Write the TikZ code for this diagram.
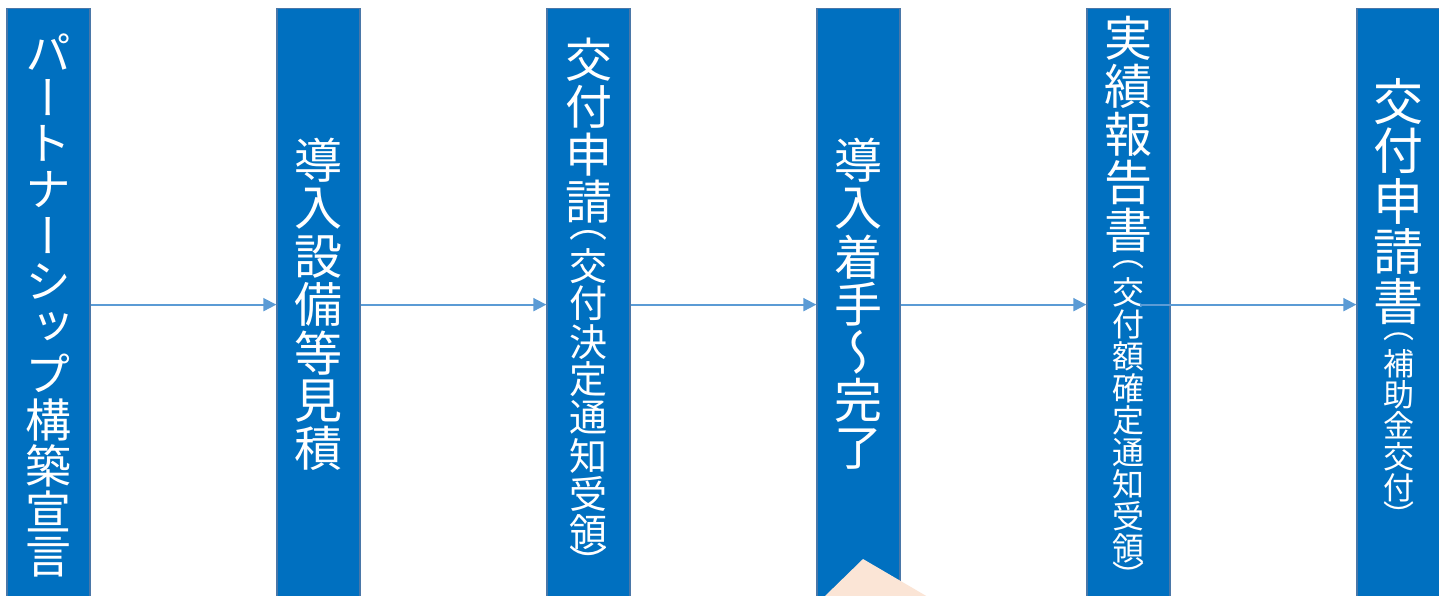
\documentclass[tikz,border=0pt]{standalone}
\usepackage{fontspec}
\newfontfamily\jp[RawFeature=+vert]{Noto Sans CJK JP}
\usetikzlibrary{arrows.meta}
\definecolor{barfill}{HTML}{0070C0}
\definecolor{barline}{HTML}{4A77A8}
\definecolor{arrowcol}{HTML}{5B9BD5}
\definecolor{peach}{HTML}{FBE5D6}
\makeatletter
% one character in a cell: font size, cell height, character
\newcommand\jc[3]{\vbox to #2pt{\vss\hbox to 80pt{\hss\fontsize{#1pt}{#1pt}\selectfont\jp #3\hss}\vss}}
% a run of characters, each in a cell as tall as the font size
\newcommand\vrun[2]{\def\vr@size{#1}\@tfor\vr@c:=#2\do{\jc{\vr@size}{\vr@size}{\vr@c}}}
\makeatother
\newcommand\vcol[1]{\vbox{\offinterlineskip #1}}
\begin{document}
\begin{tikzpicture}[x=1pt,y=1pt,
  bar/.style={draw=barline,line width=1.3pt,fill=barfill,text=white,
    minimum width=83pt,minimum height=592pt,inner sep=0pt,anchor=north},
  arr/.style={draw=arrowcol,line width=1.8pt,
    -{Triangle[length=13pt,width=13pt]}}]
\useasboundingbox (0,0) rectangle (1439,595);
\fill[white] (0,0) rectangle (1439,595);
\node[bar] (b1) at (48.5,587) {\vcol{\vrun{46}{パートナーシップ構築宣言}}};
\node[bar] (b2) at (318.5,587) {\vcol{\vrun{48}{導入設備等見積}}};
\node[bar] (b3) at (588.5,587) {\vcol{\vrun{47}{交付申請}\jc{38}{22}{（}\vrun{38}{交付決定通知受領}\jc{38}{22}{）}}};
\node[bar] (b4) at (858.5,587) {\vcol{\vrun{48}{導入着手～完了}}};
\node[bar] (b5) at (1128.5,587) {\vcol{\vrun{48}{実績報告書}\jc{32}{22}{（}\vrun{32}{交付額確定通知受領}\jc{32}{22}{）}\vskip9pt}};
\node[bar] (b6) at (1398.5,587) {\vcol{\vrun{50}{交付申請書}\jc{31}{22}{（}\vrun{31}{補助金交付}\jc{31}{22}{）}\vskip8pt}};
\draw[arr] (b1.east) -- (b2.west);
\draw[arr] (b2.east) -- (b3.west);
\draw[arr] (b3.east) -- (b4.west);
\draw[arr] (b4.east) -- (b5.west);
\draw[arr] ([xshift=11pt]b5.center) -- (b6.west);
\fill[peach] (824,-2) -- (863,36) -- (928,-2) -- cycle;
\end{tikzpicture}
\end{document}
